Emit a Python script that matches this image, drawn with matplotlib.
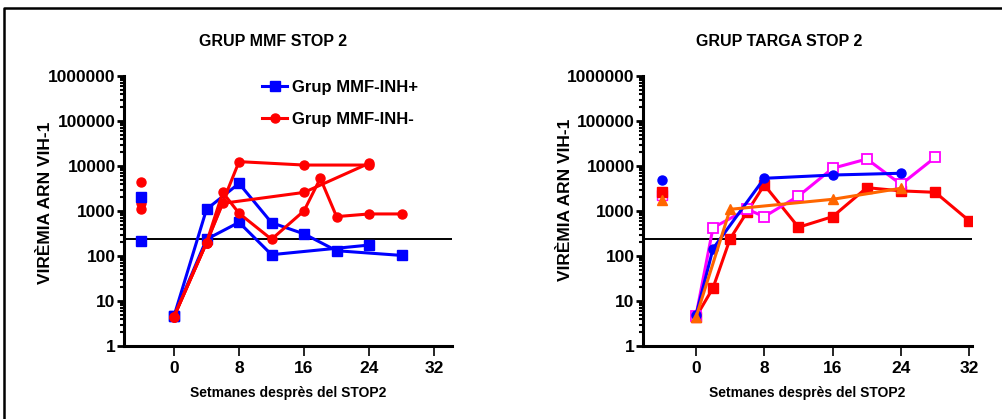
import matplotlib
matplotlib.use("Agg")
import matplotlib.pyplot as plt
from matplotlib.ticker import LogLocator, NullFormatter, FixedLocator
from matplotlib import font_manager

# ---------------- data ----------------
xticks = [0, 8, 16, 24, 32]
yticks = [1, 10, 100, 1000, 10000, 100000, 1000000]
ytick_labels = ["1", "10", "100", "1000", "10000", "100000", "1000000"]
threshold = 235

# Left panel: GRUP MMF STOP 2
mmf_pos_base_y = [2080, 218]
mmf_neg_base_y = [4350, 1520, 1120]
base_x = -4

mmf_pos_a_x = [0, 4, 8, 12, 16, 20, 28]
mmf_pos_a_y = [4.6, 1090, 4100, 550, 310, 131, 103]
mmf_pos_b_x = [0, 4, 8, 12, 24]
mmf_pos_b_y = [4.6, 235, 560, 107, 175]

mmf_neg_a_x = [0, 4, 8, 16, 24]
mmf_neg_a_y = [4.5, 198, 12500, 10500, 10500]
mmf_neg_b_x = [0, 4, 6, 8, 12, 16, 18, 20, 24, 28]
mmf_neg_b_y = [4.5, 198, 2590, 890, 235, 1010, 5330, 750, 860, 860]
mmf_neg_c_x = [0, 4, 6, 16, 24]
mmf_neg_c_y = [4.5, 198, 1480, 2590, 11500]

# Right panel: GRUP TARGA STOP 2
tg_blue_base = 4900
tg_magenta_base = 2280
tg_red_base = 2680
tg_orange_base = 1750

tg_blue_x = [0, 2, 8, 16, 24]
tg_blue_y = [4.8, 145, 5330, 6300, 6900]
tg_magenta_x = [0, 2, 6, 8, 12, 16, 20, 24, 28]
tg_magenta_y = [4.6, 425, 1090, 750, 2150, 8900, 14300, 3900, 15600]
tg_red_x = [0, 2, 4, 6, 8, 12, 16, 20, 24, 28, 32]
tg_red_y = [4.4, 19.5, 241, 960, 3800, 435, 750, 3300, 2800, 2600, 600]
tg_orange_x = [0, 4, 16, 24]
tg_orange_y = [4.3, 1090, 1820, 3200]

legend_labels = ["Grup MMF-INH+", "Grup MMF-INH-"]
titles = ["GRUP MMF STOP 2", "GRUP TARGA STOP 2"]
ylabel = "VIRÈMIA ARN VIH-1"
xlabel = "Setmanes desprès del STOP2"

# ---------------- style ----------------
names = {f.name for f in font_manager.fontManager.ttflist}
fam = ["Liberation Sans Narrow", "Liberation Sans", "DejaVu Sans"]
fam = [f for f in fam if f in names] or ["DejaVu Sans"]
plt.rcParams["font.family"] = fam
plt.rcParams["font.weight"] = "bold"

BLUE = "#0000FF"
RED = "#FF0000"
MAG = "#FF00FF"
ORG = "#FF6600"
LW = 2.2

W, H = 1002, 419
fig = plt.figure(figsize=(W / 100, H / 100), dpi=100)


def px_axes(x0, x1, ytop, ybot):
    return fig.add_axes([x0 / W, (H - ybot) / H, (x1 - x0) / W, (ybot - ytop) / H])


def style(ax, xlim, ylab_x, ylab_y):
    ax.set_yscale("log")
    ax.set_ylim(1, 1e6)
    ax.set_xlim(*xlim)
    for s in ["top", "right"]:
        ax.spines[s].set_visible(False)
    for s in ["left", "bottom"]:
        ax.spines[s].set_linewidth(2.2)
    ax.yaxis.set_major_locator(FixedLocator(yticks))
    ax.set_yticklabels(ytick_labels)
    ax.yaxis.set_minor_locator(LogLocator(base=10, subs=range(2, 10), numticks=20))
    ax.yaxis.set_minor_formatter(NullFormatter())
    ax.set_xticks(xticks)
    ax.set_xticklabels([str(t) for t in xticks])
    ax.tick_params(axis="y", which="major", length=5, width=2, labelsize=12.5, pad=1)
    ax.tick_params(axis="y", which="minor", length=3, width=1.5)
    ax.tick_params(axis="x", which="major", length=7, width=1.2, labelsize=12.5, pad=4)
    for lab in ax.get_xticklabels() + ax.get_yticklabels():
        lab.set_fontweight("bold")
    ax.axhline(threshold, color="black", lw=1.4, zorder=1)
    ax.set_ylabel(ylabel, fontsize=12.5, fontweight="bold")
    ax.yaxis.set_label_coords(ylab_x, ylab_y)
    ax.set_xlabel(xlabel, fontsize=10, fontweight="bold", labelpad=7)


# ---- left panel ----
ax1 = px_axes(124, 452, 76, 346)
style(ax1, (-6.15, 34.2), (53 - 124) / 328, 0.53)
ms = 6.5
l1, = ax1.plot(mmf_pos_a_x, mmf_pos_a_y, color=BLUE, lw=LW, marker="s", ms=ms, zorder=3)
ax1.plot(mmf_pos_b_x, mmf_pos_b_y, color=BLUE, lw=LW, marker="s", ms=ms, zorder=3)
l2, = ax1.plot(mmf_neg_a_x, mmf_neg_a_y, color=RED, lw=LW, marker="o", ms=ms, zorder=3)
ax1.plot(mmf_neg_b_x, mmf_neg_b_y, color=RED, lw=LW, marker="o", ms=ms, zorder=3)
ax1.plot(mmf_neg_c_x, mmf_neg_c_y, color=RED, lw=LW, marker="o", ms=ms, zorder=3)
ax1.plot([base_x] * len(mmf_neg_base_y), mmf_neg_base_y, ls="none", color=RED, marker="o", ms=ms, zorder=3)
ax1.plot([base_x] * len(mmf_pos_base_y), mmf_pos_base_y, ls="none", color=BLUE, marker="s", ms=ms, zorder=4)
leg = ax1.legend([l1, l2], legend_labels, loc="upper left",
                 bbox_to_anchor=(262 / W, (H - 80) / H), bbox_transform=fig.transFigure,
                 frameon=False, fontsize=12, handlelength=1.5, handletextpad=0.3,
                 labelspacing=1.0, borderpad=0, borderaxespad=0)
for t in leg.get_texts():
    t.set_fontweight("bold")

# ---- right panel ----
ax2 = px_axes(643, 972, 76, 346)
style(ax2, (-6.19, 32.3), (573 - 643) / 329, 0.54)
ax2.plot(tg_red_x, tg_red_y, color=RED, lw=LW, marker="s", ms=ms, zorder=3)
ax2.plot(tg_magenta_x, tg_magenta_y, color=MAG, lw=LW, marker="s", ms=ms,
         markerfacecolor="white", markeredgecolor=MAG, markeredgewidth=1.3, zorder=4)
ax2.plot(tg_orange_x, tg_orange_y, color=ORG, lw=LW, marker="^", ms=ms, zorder=5)
ax2.plot(tg_blue_x, tg_blue_y, color=BLUE, lw=LW, marker="o", ms=ms, zorder=4)
ax2.plot([base_x], [tg_magenta_base], ls="none", marker="s", ms=ms, color=MAG,
         markerfacecolor="white", zorder=3)
ax2.plot([base_x], [tg_red_base], ls="none", marker="s", ms=ms, color=RED, zorder=4)
ax2.plot([base_x], [tg_orange_base], ls="none", marker="^", ms=ms, color=ORG, zorder=4)
ax2.plot([base_x], [tg_blue_base], ls="none", marker="o", ms=ms, color=BLUE, zorder=4)

# titles
fig.text(273 / W, 1 - 42 / H, titles[0], ha="center", va="center", fontsize=11.5, fontweight="bold")
fig.text(779 / W, 1 - 42 / H, titles[1], ha="center", va="center", fontsize=11.5, fontweight="bold")

# outer frame (left and top)
fig.add_artist(plt.Line2D([4 / W, 4 / W, 1.0], [0.0, 1 - 8 / H, 1 - 8 / H],
                          transform=fig.transFigure, color="black", lw=1.8))

fig.savefig("out.png", dpi=100)
